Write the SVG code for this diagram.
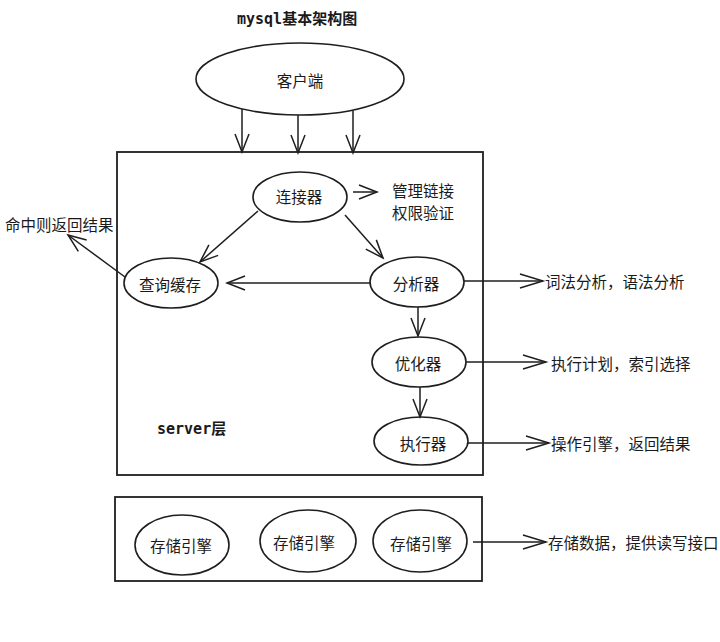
<svg xmlns="http://www.w3.org/2000/svg" width="720" height="642" viewBox="0 0 720 642">
<style>
.bg{fill:#ffffff}
.shape{fill:#ffffff;stroke:#1e1e1e;stroke-width:1.6}
.box{fill:none;stroke:#1e1e1e;stroke-width:1.8}
.edge{fill:none;stroke:#1e1e1e;stroke-width:1.5;marker-end:url(#arr)}
.edge.long{marker-end:url(#arrL);stroke-width:1.7}
.t{font-family:"Noto Sans CJK SC","Noto Sans",sans-serif;font-size:15.5px;fill:#1a1a1a;dominant-baseline:central}
.c{text-anchor:middle}
.mono{font-family:"DejaVu Sans Mono","Liberation Mono","Noto Sans CJK SC",monospace;font-size:15px;font-weight:bold;fill:#1a1a1a;dominant-baseline:central}
</style>
<defs>
<marker id="arr" markerUnits="userSpaceOnUse" markerWidth="24" markerHeight="20" viewBox="0 0 24 20" refX="20" refY="10" orient="auto">
<path d="M2,3 L20,10 L2,17" fill="none" stroke="#1e1e1e" stroke-width="1.5"/>
</marker>
<marker id="arrL" markerUnits="userSpaceOnUse" markerWidth="28" markerHeight="20" viewBox="0 0 28 20" refX="25" refY="10" orient="auto">
<path d="M2,3 L25,10 L2,17" fill="none" stroke="#1e1e1e" stroke-width="1.5"/>
</marker>
</defs>
<rect class="bg" x="0" y="0" width="720" height="642"/>

<text id="title" class="mono" x="237" y="19">mysql基本架构图</text>

<g id="client"><ellipse class="shape" cx="300" cy="79" rx="104" ry="36"/><text class="t c" x="300" y="80">客户端</text></g>

<g id="server-layer"><rect class="box" x="117" y="152" width="366" height="323"/><text class="mono" x="157" y="429">server层</text></g>

<g id="connector"><ellipse class="shape" cx="300" cy="197" rx="47" ry="25"/><text class="t c" x="299" y="196">连接器</text></g>
<g id="connector-note"><text class="t" x="392" y="190">管理链接</text><text class="t" x="392" y="212">权限验证</text></g>

<g id="query-cache"><ellipse class="shape" cx="171" cy="283" rx="47" ry="25"/><text class="t c" x="170" y="284">查询缓存</text></g>
<g id="cache-note"><text class="t" x="5" y="224">命中则返回结果</text></g>

<g id="analyzer"><ellipse class="shape" cx="417" cy="282" rx="47" ry="25"/><text class="t c" x="416" y="283">分析器</text></g>
<g id="analyzer-note"><text class="t" x="545" y="281">词法分析，语法分析</text></g>

<g id="optimizer"><ellipse class="shape" cx="419" cy="362" rx="47" ry="25"/><text class="t c" x="418" y="363">优化器</text></g>
<g id="optimizer-note"><text class="t" x="551" y="363">执行计划，索引选择</text></g>

<g id="executor"><ellipse class="shape" cx="421" cy="441" rx="47" ry="24"/><text class="t c" x="423" y="443">执行器</text></g>
<g id="executor-note"><text class="t" x="551" y="443">操作引擎，返回结果</text></g>

<g id="storage-layer"><rect class="box" x="115" y="497" width="367" height="84"/></g>
<g id="engine1"><ellipse class="shape" cx="182" cy="545" rx="47" ry="30"/><text class="t c" x="181" y="545">存储引擎</text></g>
<g id="engine2"><ellipse class="shape" cx="308" cy="541" rx="48" ry="31"/><text class="t c" x="304" y="542">存储引擎</text></g>
<g id="engine3"><ellipse class="shape" cx="420" cy="541" rx="47" ry="31"/><text class="t c" x="421" y="543">存储引擎</text></g>
<g id="storage-note"><text class="t" x="548" y="542">存储数据，提供读写接口</text></g>

<g id="connectors">
<line class="edge" x1="242" y1="109" x2="242" y2="152"/>
<line class="edge" x1="298" y1="115" x2="298" y2="153"/>
<line class="edge" x1="353" y1="111" x2="353" y2="153"/>
<line class="edge" x1="353" y1="192" x2="377" y2="192"/>
<line class="edge" x1="258" y1="211" x2="200" y2="262"/>
<line class="edge" x1="345" y1="215" x2="383" y2="258"/>
<line class="edge" x1="371" y1="283" x2="227" y2="283"/>
<line class="edge" x1="125" y1="277" x2="68" y2="235"/>
<line class="edge long" x1="464" y1="281" x2="543" y2="281"/>
<line class="edge" x1="418" y1="307" x2="418" y2="336"/>
<line class="edge long" x1="466" y1="362" x2="546" y2="362"/>
<line class="edge" x1="420" y1="387" x2="420" y2="417"/>
<line class="edge long" x1="468" y1="443" x2="549" y2="443"/>
<line class="edge long" x1="473" y1="542" x2="546" y2="542"/>
</g>
</svg>
